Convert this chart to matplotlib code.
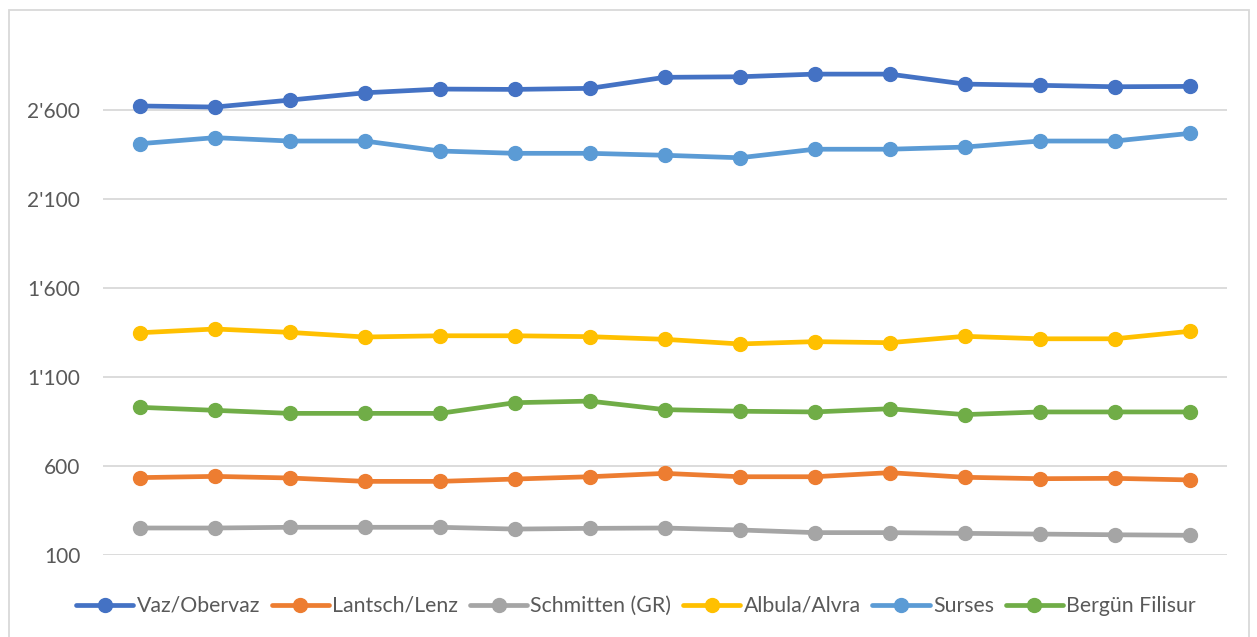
import matplotlib
matplotlib.use("Agg")
import matplotlib.pyplot as plt
from matplotlib.patches import Rectangle
from matplotlib.ticker import FuncFormatter

# Einwohner pro Gemeinde (15 Jahre)
years = list(range(15))
vaz = [2621, 2615, 2654, 2695, 2716, 2714, 2720, 2782, 2785, 2800, 2800, 2744, 2737, 2729, 2731]
lantsch = [533, 540, 531, 512, 512, 525, 538, 557, 538, 538, 561, 535, 527, 529, 520]
schmitten = [250, 250, 254, 254, 254, 244, 248, 250, 239, 224, 224, 220, 216, 212, 209]
albula = [1347, 1368, 1349, 1323, 1330, 1330, 1325, 1310, 1284, 1297, 1291, 1327, 1313, 1313, 1355]
surses = [2409, 2443, 2424, 2424, 2368, 2355, 2355, 2344, 2330, 2378, 2378, 2390, 2424, 2424, 2467]
bergun = [928, 911, 894, 894, 894, 954, 963, 915, 906, 902, 920, 887, 902, 902, 902]

names = ["Vaz/Obervaz", "Lantsch/Lenz", "Schmitten (GR)", "Albula/Alvra", "Surses", "Bergün Filisur"]
series = [vaz, lantsch, schmitten, albula, surses, bergun]
colors = ["#4472C4", "#ED7D31", "#A5A5A5", "#FFC000", "#5B9BD5", "#70AD47"]
yticks = [100, 600, 1100, 1600, 2100, 2600]

GRID = "#D9D9D9"; TXT = "#595959"
plt.rcParams.update({"font.family": ["Lato", "DejaVu Sans"], "font.size": 15})

W, H = 1257, 637
fig = plt.figure(figsize=(W / 100, H / 100), dpi=100)
fig.patches.append(Rectangle((9 / W, -0.05), (1249 - 9) / W, 1.05 - 10 / H, transform=fig.transFigure,
                             fill=False, edgecolor=GRID, linewidth=1.3))

ax = fig.add_axes([102.5 / W, 1 - 554.7 / H, (1227 - 102.5) / W, 534.7 / H])
for name, vals, col in zip(names, series, colors):
    ax.plot(years, vals, color=col, linewidth=3.4, marker="o", markersize=10,
            markeredgecolor=col, solid_capstyle="round", label=name)

ax.set_xlim(-0.5, 14.5)
ax.set_ylim(100, 3104)
ax.set_yticks(yticks)
ax.yaxis.set_major_formatter(FuncFormatter(lambda v, p: f"{v:,.0f}".replace(",", "'")))
ax.set_xticks([])
ax.tick_params(axis="y", length=0, pad=16, labelcolor=TXT)
ax.grid(axis="y", color=GRID, linewidth=1.3)
ax.set_axisbelow(True)
for s in ax.spines.values():
    s.set_visible(False)

fig.legend(loc="center", bbox_to_anchor=(636 / W, 1 - 606 / H), ncol=6, frameon=False, fontsize=15.3,
           handlelength=2.7, handletextpad=0.15, columnspacing=0.55, labelcolor=TXT)

fig.savefig("out.png", dpi=100)
